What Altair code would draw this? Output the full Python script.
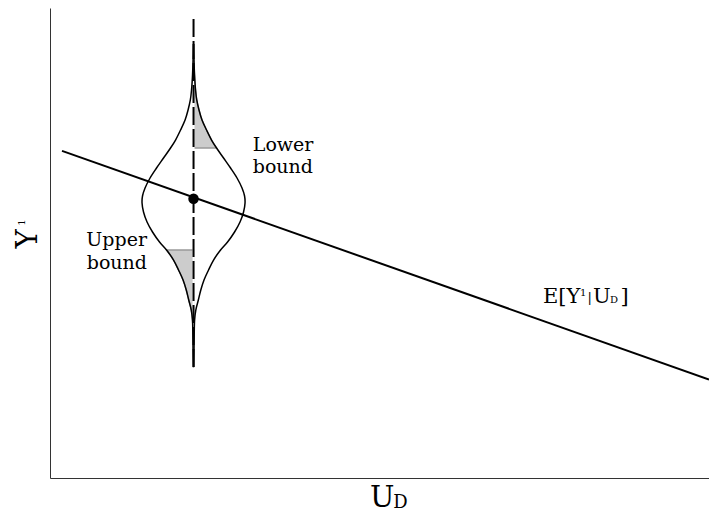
import altair as alt
import pandas as pd

FONT = "DejaVu Serif"

# ---- data (chart units: x 0-98.8 along U_D, y 0-100 along Y^1) ----
line_x = [1.8, 98.8]
line_y = [69.6, 20.96]

point_x = [21.52]
point_y = [59.4]

rule_x = [21.52]
rule_y_bottom = [23.6]
rule_y_top = [98.1]

violin_center = 21.52
violin_y = [92.34, 88.94, 85.74, 82.55, 80.43, 78.30, 76.17, 74.04, 71.91, 70.21,
            68.09, 65.96, 63.83, 61.70, 60.00, 58.51, 56.60, 54.47, 52.34, 50.21,
            48.51, 46.38, 44.26, 42.13, 40.00, 37.87, 35.74, 33.62, 30.43, 27.23, 23.62]
violin_w = [0.03, 0.07, 0.15, 0.30, 0.48, 0.82, 1.27, 1.95, 2.70, 3.45,
            4.50, 5.55, 6.52, 7.27, 7.65, 7.72, 7.50, 6.97, 6.15, 5.10,
            4.05, 3.00, 2.25, 1.57, 1.09, 0.72, 0.34, 0.16, 0.10, 0.07, 0.03]

upper_shade_first, upper_shade_last = 0, 9     # right side, top tail down to the cut
lower_shade_first, lower_shade_last = 20, 30   # left side, from the cut down to the tail

# text pieces
left_text = ["Lower", "bound", "E[Y", "1", "|", "U", "D", "]", "U", "D"]
left_x = [30.4, 30.4, 73.91, 79.46, 80.58, 81.41, 83.96, 85.53, 47.98, 51.45]
left_y = [69.57, 64.89, 37.23, 38.72, 37.45, 37.23, 37.23, 37.23, -6.17, -6.3]
left_size = [19, 19, 21, 10, 13, 21, 10, 21, 29, 18]

right_text = ["Upper", "bound"]
right_x = [14.54, 14.54]
right_y = [49.26, 44.57]
right_size = [19, 19]

rot_text = ["Y", "1"]
rot_x = [-1.95, -3.75]
rot_y = [50.85, 54.36]
rot_size = [29, 10]

# ---- tables ----
line_df = pd.DataFrame({"x": line_x, "y": line_y})
point_df = pd.DataFrame({"x": point_x, "y": point_y})
rule_df = pd.DataFrame({"x": rule_x, "y": rule_y_bottom, "y2": rule_y_top})

rows = []
for i, (yy, ww) in enumerate(zip(violin_y, violin_w)):
    rows.append({"side": "right", "idx": i, "x": violin_center + ww, "y": yy})
    rows.append({"side": "left", "idx": i, "x": violin_center - ww, "y": yy})
violin_df = pd.DataFrame(rows)

shade_rows = []
for i in range(upper_shade_first, upper_shade_last + 1):
    shade_rows.append({"part": "upper", "y": violin_y[i], "xa": violin_center,
                       "xb": violin_center + violin_w[i]})
for i in range(lower_shade_first, lower_shade_last + 1):
    shade_rows.append({"part": "lower", "y": violin_y[i], "xa": violin_center - violin_w[i],
                       "xb": violin_center})
shade_df = pd.DataFrame(shade_rows)

left_df = pd.DataFrame({"t": left_text, "x": left_x, "y": left_y, "s": left_size})
right_df = pd.DataFrame({"t": right_text, "x": right_x, "y": right_y, "s": right_size})
rot_df = pd.DataFrame({"t": rot_text, "x": rot_x, "y": rot_y, "s": rot_size})

xs = alt.Scale(domain=[0, 98.8], nice=False, zero=False)
ys = alt.Scale(domain=[0, 100], nice=False, zero=False)
ax = alt.Axis(title=None, labels=False, ticks=False, grid=False,
              domainColor="#333333", domainWidth=1)

shade = alt.Chart(shade_df).mark_area(
    orient="horizontal", interpolate="catmull-rom",
    fill="#cccccc", stroke="#999999", strokeWidth=1.3
).encode(
    y=alt.Y("y:Q", scale=ys, axis=ax),
    x=alt.X("xa:Q", scale=xs, axis=ax),
    x2="xb:Q",
    detail="part:N",
)

rule_white = alt.Chart(rule_df).mark_rule(color="white", strokeWidth=2).encode(
    x=alt.X("x:Q", scale=xs), y=alt.Y("y:Q", scale=ys), y2="y2:Q"
)

violin = alt.Chart(violin_df).mark_line(
    interpolate="catmull-rom", color="black", strokeWidth=1.5
).encode(
    x=alt.X("x:Q", scale=xs), y=alt.Y("y:Q", scale=ys),
    detail="side:N", order="idx:Q",
)

reg = alt.Chart(line_df).mark_line(color="black", strokeWidth=2).encode(
    x=alt.X("x:Q", scale=xs), y=alt.Y("y:Q", scale=ys)
)

rule_dash = alt.Chart(rule_df).mark_rule(
    color="black", strokeWidth=2, strokeDash=[18, 4]
).encode(
    x=alt.X("x:Q", scale=xs), y=alt.Y("y:Q", scale=ys), y2="y2:Q"
)

pt = alt.Chart(point_df).mark_circle(color="black", size=110, opacity=1).encode(
    x=alt.X("x:Q", scale=xs), y=alt.Y("y:Q", scale=ys)
)

txt_left = alt.Chart(left_df).mark_text(
    align="left", baseline="alphabetic", font=FONT, color="black"
).encode(
    x=alt.X("x:Q", scale=xs), y=alt.Y("y:Q", scale=ys),
    text="t:N", size=alt.Size("s:Q", scale=None, legend=None),
)

txt_right = alt.Chart(right_df).mark_text(
    align="right", baseline="alphabetic", font=FONT, color="black"
).encode(
    x=alt.X("x:Q", scale=xs), y=alt.Y("y:Q", scale=ys),
    text="t:N", size=alt.Size("s:Q", scale=None, legend=None),
)

txt_rot = alt.Chart(rot_df).mark_text(
    align="center", baseline="alphabetic", font=FONT, color="black", angle=270
).encode(
    x=alt.X("x:Q", scale=xs), y=alt.Y("y:Q", scale=ys),
    text="t:N", size=alt.Size("s:Q", scale=None, legend=None),
)

chart = alt.layer(
    shade, rule_white, violin, reg, rule_dash, pt, txt_left, txt_right, txt_rot
).properties(
    width=659, height=470,
    autosize=alt.AutoSizeParams(type="none"),
    padding={"left": 42, "top": 0, "right": 0, "bottom": 36},
).configure_view(strokeWidth=0)

chart.save("out.html", embed_options={"renderer": "svg", "actions": False})
